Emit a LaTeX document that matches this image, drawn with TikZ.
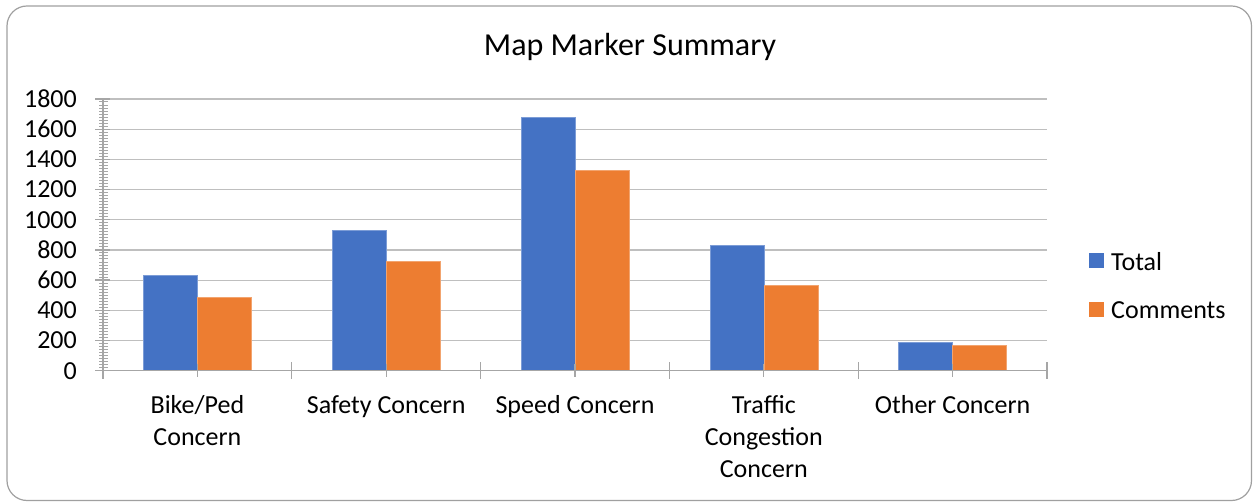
\documentclass[tikz,border=0pt]{standalone}
\usepackage{fontspec}
\setmainfont{Carlito}
\definecolor{cblue}{HTML}{4472C4}
\definecolor{corange}{HTML}{ED7D31}
\definecolor{axisgray}{HTML}{A6A6A6}
\definecolor{gridgray}{HTML}{BFBFBF}
\definecolor{framegray}{HTML}{A0A0A0}
\begin{document}
\begin{tikzpicture}[x=1pt,y=-1pt,
  frame/.style={draw=framegray,line width=1.2pt,rounded corners=20pt},
  gridline/.style={draw=gridgray,line width=1.2pt},
  axisline/.style={draw=axisgray,line width=1.3pt},
  totalbar/.style={fill=cblue,draw=cblue!70!white,line width=0.6pt},
  combar/.style={fill=corange,draw=corange!70!white,line width=0.6pt},
  ylab/.style={anchor=east,inner sep=0pt,font=\fontsize{26}{32}\selectfont},
  catlab/.style={anchor=north,inner sep=0pt,align=center,font=\fontsize{26}{32}\selectfont},
  leglab/.style={anchor=west,inner sep=0pt,font=\fontsize{26}{32}\selectfont},
  titlelab/.style={inner sep=0pt,font=\fontsize{32}{38}\selectfont}]
\useasboundingbox (0,0) rectangle (1253,502);
\draw[frame] (7,6) rectangle (1251.5,500.5);
\node[titlelab] (title) at (630,47) {Map Marker Summary};
% scale: value v -> y = 370.7 - v*0.15095
\def\yz{370.7}
\def\sc{0.15095}
% gridlines and y labels
\foreach \v in {200,400,...,1800}{
  \draw[gridline] (103,{\yz-\v*\sc}) -- (1047,{\yz-\v*\sc});
}
\foreach \v in {0,200,...,1800}{
  \node[ylab] (y\v) at (77,{\yz-\v*\sc}) {\v};
  \draw[axisline] (95,{\yz-\v*\sc}) -- (110,{\yz-\v*\sc});
}
\foreach \v in {20,40,...,1780}{
  \draw[draw=axisgray,line width=1pt] (99,{\yz-\v*\sc}) -- (107.5,{\yz-\v*\sc});
}
% bars
\def\cw{188.8}
\foreach \i/\t/\c in {0/632/488,1/928/725,2/1679/1328,3/833/566,4/188/170}{
  \pgfmathsetmacro{\cx}{103+\cw*(\i+0.5)}
  \fill[totalbar] ({\cx-54},\yz) rectangle (\cx,{\yz-\t*\sc});
  \fill[combar] (\cx,\yz) rectangle ({\cx+54},{\yz-\c*\sc});
  \draw[draw=axisgray,line width=1.2pt] (\cx,{\yz-7}) -- (\cx,{\yz+6});
}
% axes
\draw[axisline] (103,99) -- (103,378.7);
\draw[axisline] (95,\yz) -- (1047,\yz);
\foreach \i in {1,...,5}{
  \draw[axisline] ({103+\cw*\i},{\yz-8.5}) -- ({103+\cw*\i},{\yz+8});
}
% category labels
\node[catlab] (c1) at (197.4,395) {Bike/Ped\\Concern};
\node[catlab] (c2) at (386.2,395) {Safety Concern};
\node[catlab] (c3) at (575,395) {Speed Concern};
\node[catlab] (c4) at (763.8,395) {Traffic\\Congestion\\Concern};
\node[catlab] (c5) at (952.6,395) {Other Concern};
% legend
\fill[cblue] (1089,253.5) rectangle (1103.5,268.5);
\node[leglab] (lt) at (1111,262) {Total};
\fill[corange] (1089,302) rectangle (1103.5,317);
\node[leglab] (lc) at (1111,310.5) {Comments};
\end{tikzpicture}
\end{document}
